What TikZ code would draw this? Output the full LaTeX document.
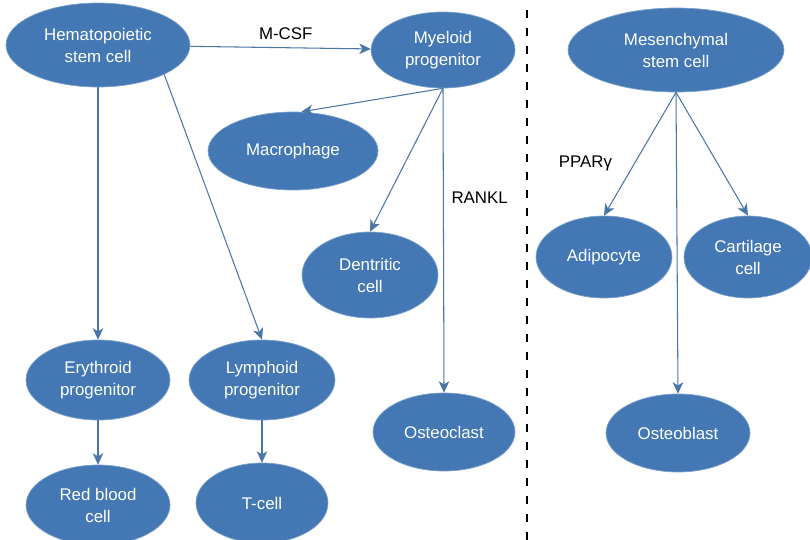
\documentclass[tikz,border=0pt]{standalone}
\usepackage{fontspec}
\setmainfont{Liberation Sans}
\usetikzlibrary{shapes.geometric,arrows.meta}

\definecolor{cellblue}{RGB}{67,120,180}
\definecolor{linkblue}{RGB}{74,118,168}

\tikzset{
	cell/.style={ellipse,fill=cellblue,draw=cellblue!70!white,line width=0.4pt,text=white,align=center,inner sep=0pt,font=\fontsize{9.6}{12.5}\selectfont},
	link/.style={draw=linkblue,line width=0.6pt,-{Stealth[length=6.5pt,width=6pt,inset=1.8pt]}},
	tag/.style={font=\fontsize{9.6}{12.5}\selectfont,text=black}
}

\begin{document}
\begin{tikzpicture}[x=0.02cm,y=-0.02cm]
\useasboundingbox (0,0) rectangle (810,540);
% haematopoietic branch
\node (hsc) [cell,minimum width=3.68cm,minimum height=1.68cm] at (98,45) {Hematopoietic\\stem cell};
\node (mye) [cell,minimum width=2.88cm,minimum height=1.52cm] at (443,50) {Myeloid\\progenitor};
\node (mac) [cell,minimum width=3.40cm,minimum height=1.56cm] at (293,151) {Macrophage};
\node (den) [cell,minimum width=2.72cm,minimum height=1.72cm] at (370,275) {Dentritic\\cell};
\node (ost) [cell,minimum width=2.84cm,minimum height=1.56cm] at (444,432) {Osteoclast};
\node (ery) [cell,minimum width=2.88cm,minimum height=1.60cm] at (98,380) {Erythroid\\progenitor};
\node (lym) [cell,minimum width=2.92cm,minimum height=1.60cm] at (262,380) {Lymphoid\\progenitor};
\node (rbc) [cell,minimum width=2.88cm,minimum height=1.60cm] at (98,505) {Red blood\\cell};
\node (tce) [cell,minimum width=2.64cm,minimum height=1.60cm] at (262,503) {T-cell};
% mesenchymal branch
\node (msc) [cell,minimum width=4.32cm,minimum height=1.68cm] at (676,50) {Mesenchymal\\stem cell};
\node (adi) [cell,minimum width=2.72cm,minimum height=1.64cm] at (604,257) {Adipocyte};
\node (car) [cell,minimum width=2.56cm,minimum height=1.64cm] at (748,257) {Cartilage\\cell};
\node (obl) [cell,minimum width=2.88cm,minimum height=1.56cm] at (678,433) {Osteoblast};

\draw[link] (hsc) -- (mye) node [tag,midway,above=1pt,xshift=3pt] {M-CSF};
\draw[link] (hsc) -- (ery);
\draw[link] (hsc.-24) -- (lym.north);
\draw[link] (ery) -- (rbc);
\draw[link] (lym) -- (tce);
\draw[link] (mye.south) -- (mac.78);
\draw[link] (mye.south) -- (den.north);
\draw[link] (mye.south) -- (ost.north) node [tag,pos=0.36,right=1pt] {RANKL};
\draw[link] (msc.south) -- (adi.north) node [tag,pos=0.58,left=9pt] {PPARγ};
\draw[link] (msc.south) -- (car.north);
\draw[link] (msc.south) -- (obl.north);

\coordinate (top) at (527,10);
\coordinate (bot) at (527,540);
\draw[line width=0.7pt,dash pattern=on 0.16cm off 0.2cm] (top) -- (bot);
\end{tikzpicture}
\end{document}
